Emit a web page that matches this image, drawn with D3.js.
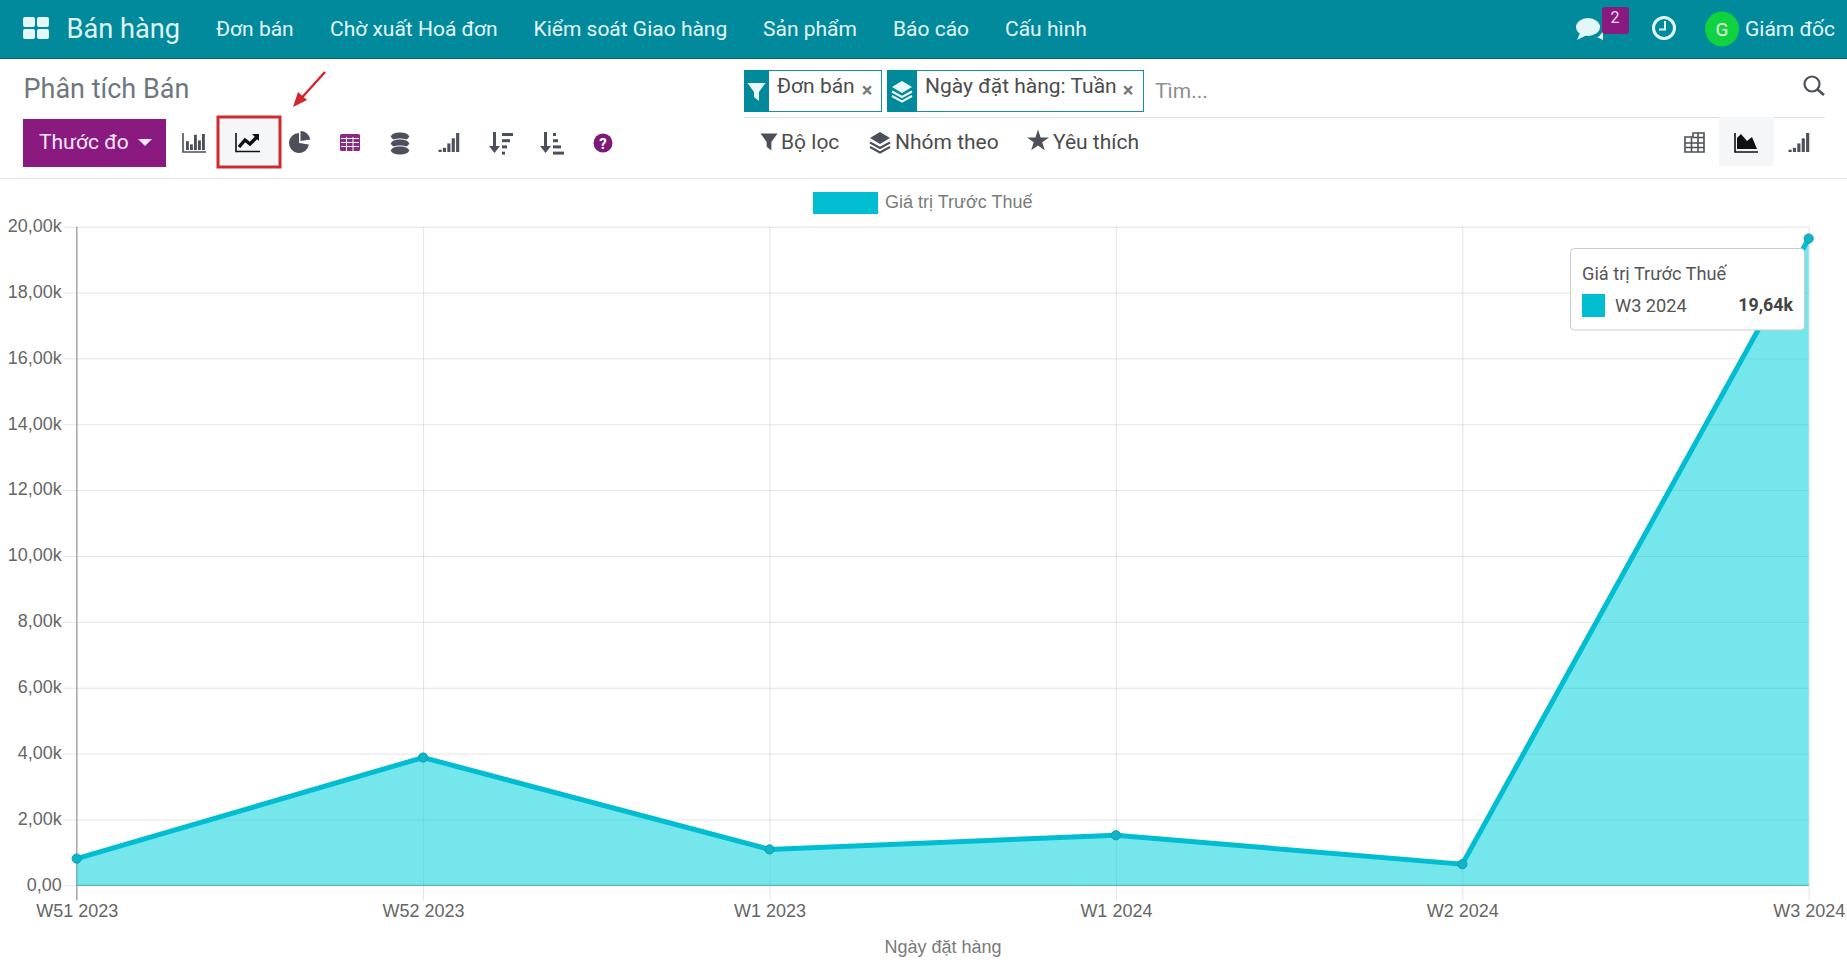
<!DOCTYPE html>
<html>
<head>
<meta charset="utf-8">
<title>Phân tích Bán</title>
<script src="https://cdnjs.cloudflare.com/ajax/libs/d3/7.8.5/d3.min.js"></script>
<style>
  html, body { margin: 0; padding: 0; background: #fff; overflow: hidden; }
  svg { display: block; }
  text { font-family: Roboto, sans-serif; }
  .chart text { font-family: "Liberation Sans", Arial, sans-serif; }
</style>
</head>
<body>
<svg id="page" width="1847" height="960"></svg>
<script>
// chart data
const categories = ['W51 2023', 'W52 2023', 'W1 2023', 'W1 2024', 'W2 2024', 'W3 2024']
const values = [810, 3880, 1090, 1520, 640, 19640]
const yTicks = [0, 2000, 4000, 6000, 8000, 10000, 12000, 14000, 16000, 18000, 20000]
const yTickLabels = ['0,00', '2,00k', '4,00k', '6,00k', '8,00k', '10,00k', '12,00k', '14,00k', '16,00k', '18,00k', '20,00k']

const seriesName = 'Giá trị Trước Thuế'
const xTitle = 'Ngày đặt hàng'
const tooltipCategory = 'W3 2024'
const tooltipValue = '19,64k'

// page chrome text
const navLabels = ['Đơn bán', 'Chờ xuất Hoá đơn', 'Kiểm soát Giao hàng', 'Sản phẩm', 'Báo cáo', 'Cấu hình']
const navX = [216, 330, 533.5, 763, 893, 1005]

const TEAL = '#018a9c'
const PURPLE = '#8a1a80'
const ICON = '#4b505a'
const CYAN = '#00bdd2'

const svg = d3.select('#page')

function label(parent, x, y, txt, size, fill, extra) {
  const t = parent.append('text').attr('x', x).attr('y', y).attr('font-size', size).attr('fill', fill).text(txt)
  if (extra) Object.keys(extra).forEach((k) => t.attr(k, extra[k]))
  return t
}

// ---- top bar
svg.append('rect').attr('width', 1847).attr('height', 58).attr('fill', TEAL)
svg.append('line').attr('x1', 0).attr('x2', 1847).attr('y1', 58.5).attr('y2', 58.5).attr('stroke', '#0b5f6c')

const logo = svg.append('g').attr('fill', '#e3f6f8')
;[[23, 17], [37, 17], [23, 29], [37, 29]].forEach((p) => {
  logo.append('rect').attr('x', p[0]).attr('y', p[1]).attr('width', 12).attr('height', 10).attr('rx', 2)
})
label(svg, 66.5, 38, 'Bán hàng', 27.2, '#dff4f6')

svg.append('g').selectAll('text').data(navLabels).join('text')
  .attr('x', (d, i) => navX[i]).attr('y', 36).attr('font-size', 21).attr('fill', '#e3f5f7').text((d) => d)

// chat bubbles + badge
const chat = svg.append('g').attr('fill', '#e3f6f8')
chat.append('ellipse').attr('cx', 1588).attr('cy', 27).attr('rx', 12).attr('ry', 9)
chat.append('path').attr('d', 'M1580 33 L1577 40 L1587 35 Z')
chat.append('path').attr('d', 'M1594 38 Q1601 37 1603 30 L1603 36 L1603 40 L1597 37 Z')
svg.append('rect').attr('x', 1602).attr('y', 7).attr('width', 27).attr('height', 27).attr('rx', 3).attr('fill', PURPLE)
label(svg, 1615, 23, '2', 16, '#f0d9ee', { 'text-anchor': 'middle' })

// clock
svg.append('circle').attr('cx', 1664).attr('cy', 28).attr('r', 10.5).attr('fill', 'none').attr('stroke', '#e3f6f8').attr('stroke-width', 3)
svg.append('path').attr('d', 'M1665 21 V29.5 H1659').attr('fill', 'none').attr('stroke', '#e3f6f8').attr('stroke-width', 2)

// user
svg.append('ellipse').attr('cx', 1722).attr('cy', 29).attr('rx', 17).attr('ry', 17.5).attr('fill', '#0fd23e')
label(svg, 1722, 36, 'G', 19, '#e8fbe9', { 'text-anchor': 'middle' })
label(svg, 1745, 36, 'Giám đốc', 21, '#e3f5f7')

// ---- control panel
label(svg, 23.5, 98, 'Phân tích Bán', 27, '#6f777e')

svg.append('rect').attr('x', 23).attr('y', 119).attr('width', 143).attr('height', 48).attr('fill', PURPLE)
label(svg, 39, 149, 'Thước đo', 21, '#f6e9f5')
svg.append('path').attr('d', 'M138 139 H152 L145 146 Z').attr('fill', '#f6e9f5')

svg.append('rect').attr('x', 218).attr('y', 117).attr('width', 62).attr('height', 50).attr('fill', '#f5f6f8')
  .attr('stroke', '#cf2a2e').attr('stroke-width', 3)

// arrow annotation
svg.append('line').attr('x1', 325).attr('y1', 72).attr('x2', 297).attr('y2', 103).attr('stroke', '#d3262b').attr('stroke-width', 2.4)
svg.append('path').attr('d', 'M293 107 L298 92 L307 100 Z').attr('fill', '#d3262b')

function barsIcon(g, x, y, w, h, heights, fill) {
  const bw = w / (heights.length * 1.4)
  heights.forEach((v, i) => {
    g.append('rect').attr('x', x + i * (w / heights.length)).attr('y', y + h * (1 - v))
      .attr('width', bw).attr('height', h * v).attr('fill', fill)
  })
}

// graph type icons
const iconBar = svg.append('g')
iconBar.append('path').attr('d', 'M183 133 V152 H206').attr('fill', 'none').attr('stroke', ICON).attr('stroke-width', 1.6)
barsIcon(iconBar, 186, 134, 20, 16, [0.55, 0.35, 0.95, 0.6, 1], ICON)

svg.append('path').attr('d', 'M236 133 V151.5 H260').attr('fill', 'none').attr('stroke', '#111').attr('stroke-width', 1.6)
svg.append('path').attr('d', 'M239 147 L245 140 L250 144 L257 137').attr('fill', 'none').attr('stroke', '#111').attr('stroke-width', 3.4)
svg.append('path').attr('d', 'M252 134 H259 V141 Z').attr('fill', '#111')

const pie = d3.arc().innerRadius(0).outerRadius(10)
svg.append('path').attr('transform', 'translate(299,143)').attr('fill', ICON)
  .attr('d', pie({ startAngle: Math.PI * 0.55, endAngle: Math.PI * 2 }))
svg.append('path').attr('transform', 'translate(300.5,141)').attr('fill', ICON)
  .attr('d', pie({ startAngle: 0, endAngle: Math.PI * 0.45 }))

const gridIcon = svg.append('g')
gridIcon.append('rect').attr('x', 340).attr('y', 134).attr('width', 20).attr('height', 17).attr('rx', 1.5).attr('fill', '#8a2a85')
;[346.5, 353].forEach((x) => gridIcon.append('line').attr('x1', x).attr('x2', x).attr('y1', 137).attr('y2', 151).attr('stroke', '#fff'))
;[138.5, 142.5, 146.5].forEach((y) => gridIcon.append('line').attr('x1', 341).attr('x2', 359).attr('y1', y).attr('y2', y).attr('stroke', '#fff'))

const db = svg.append('g').attr('fill', ICON)
;[136.5, 143.5, 150.5].forEach((y) => db.append('ellipse').attr('cx', 400).attr('cy', y).attr('rx', 9.5).attr('ry', 4.6).attr('stroke', '#fff'))

barsIcon(svg.append('g'), 438.5, 133, 22, 19, [0.12, 0.22, 0.45, 0.72, 1], ICON)

function sortIcon(x, widths) {
  const g = svg.append('g').attr('fill', ICON)
  g.append('rect').attr('x', x).attr('y', 132).attr('width', 3).attr('height', 16)
  g.append('path').attr('d', `M${x - 4} 146 H${x + 7} L${x + 1.5} 153 Z`)
  widths.forEach((w, i) => g.append('rect').attr('x', x + 9).attr('y', 133 + i * 6.2).attr('width', w).attr('height', 3))
}
sortIcon(493, [11, 8, 5, 3])
sortIcon(544, [3, 5, 8, 11])

svg.append('circle').attr('cx', 603).attr('cy', 143).attr('r', 9.5).attr('fill', '#7d1a78')
label(svg, 603, 149, '?', 15, '#fff', { 'text-anchor': 'middle', 'font-weight': 700 })

// ---- search facets
function facet(x0, iconW, x1, txt, txtX, closeX, drawIcon) {
  svg.append('rect').attr('x', x0 + 0.5).attr('y', 70.5).attr('width', x1 - x0 - 1).attr('height', 41).attr('fill', '#fff').attr('stroke', '#1b8d9e')
  svg.append('rect').attr('x', x0).attr('y', 70).attr('width', iconW).attr('height', 42).attr('fill', TEAL)
  drawIcon(x0 + iconW / 2)
  label(svg, txtX, 93, txt, 21, '#4c4c4c')
  label(svg, closeX, 97, '×', 20, '#777', { 'text-anchor': 'middle', 'font-weight': 700 })
}

function funnel(cx, cy, s, fill) {
  svg.append('path').attr('fill', fill)
    .attr('d', `M${cx - 9 * s} ${cy - 9 * s} H${cx + 9 * s} L${cx + 2.5 * s} ${cy} V${cy + 9 * s} L${cx - 2.5 * s} ${cy + 5 * s} V${cy} Z`)
}

function layers(cx, cy, fill) {
  const g = svg.append('g').attr('fill', 'none').attr('stroke', fill).attr('stroke-width', 2)
  svg.append('path').attr('d', `M${cx} ${cy - 10} L${cx + 10} ${cy - 4} L${cx} ${cy + 2} L${cx - 10} ${cy - 4} Z`).attr('fill', fill)
  g.append('path').attr('d', `M${cx - 10} ${cy + 0.5} L${cx} ${cy + 6} L${cx + 10} ${cy + 0.5}`)
  g.append('path').attr('d', `M${cx - 10} ${cy + 5} L${cx} ${cy + 10.5} L${cx + 10} ${cy + 5}`)
}

facet(744, 25, 882, 'Đơn bán', 777, 867, (cx) => funnel(cx, 92, 1, '#e9f7f9'))
facet(887, 30, 1144, 'Ngày đặt hàng: Tuần', 925, 1128, (cx) => layers(cx, 91, '#e9f7f9'))
label(svg, 1155, 98, 'Tìm...', 21, '#8a8f94')

// search glass
svg.append('circle').attr('cx', 1812).attr('cy', 84).attr('r', 7.5).attr('fill', 'none').attr('stroke', ICON).attr('stroke-width', 2.2)
svg.append('line').attr('x1', 1817.5).attr('y1', 89.5).attr('x2', 1824).attr('y2', 95).attr('stroke', ICON).attr('stroke-width', 2.6)

svg.append('line').attr('x1', 744).attr('x2', 1825).attr('y1', 117.5).attr('y2', 117.5).attr('stroke', '#dee0e3')
svg.append('line').attr('x1', 0).attr('x2', 1847).attr('y1', 178.5).attr('y2', 178.5).attr('stroke', '#e2e4e6')

funnel(769, 142, 0.95, ICON)
label(svg, 781, 149, 'Bộ lọc', 21, '#4c4c4c')
layers(880, 142, ICON)
label(svg, 895, 149, 'Nhóm theo', 21, '#4c4c4c')
svg.append('path').attr('transform', 'translate(1038,141)').attr('fill', ICON)
  .attr('d', d3.symbol(d3.symbolStar, 150)())
label(svg, 1053, 149, 'Yêu thích', 21, '#4c4c4c')

// view switcher
const tbl = svg.append('g').attr('fill', 'none').attr('stroke', ICON).attr('stroke-width', 1.6)
tbl.append('path').attr('d', 'M1685 137 H1693 V133 H1704 V152 H1685 Z M1685 143 H1704 M1685 147.5 H1704 M1691.5 137 V152 M1698 133 V152 M1693 137.5 H1704')
svg.append('rect').attr('x', 1719).attr('y', 117).attr('width', 54.5).attr('height', 49).attr('fill', '#f5f6f8')
svg.append('path').attr('d', 'M1735 133 V152 H1758').attr('fill', 'none').attr('stroke', '#111').attr('stroke-width', 1.6)
svg.append('path').attr('d', 'M1737 149 V138 L1741 134 L1747 141 L1752 137 L1757 149 Z').attr('fill', '#111')
barsIcon(svg.append('g'), 1788.5, 133, 22, 19, [0.12, 0.22, 0.45, 0.72, 1], ICON)

// ---- chart
const plot = { left: 76.7, right: 1808.7, top: 226.7, bottom: 885.3 }

const x = d3.scalePoint().domain(categories).range([plot.left, plot.right])
const y = d3.scaleLinear().domain([0, 20000]).range([plot.bottom, plot.top])

const chart = svg.append('g').attr('class', 'chart')

// legend
chart.append('rect').attr('x', 813).attr('y', 192).attr('width', 65).attr('height', 22).attr('fill', CYAN)
label(chart, 885, 208, seriesName, 18, '#7a7a7a')

const gx = chart.append('g').attr('transform', `translate(0,${plot.bottom})`)
  .call(d3.axisBottom(x).tickSize(0).tickPadding(32))
gx.select('.domain').remove()
gx.selectAll('line').remove()
gx.selectAll('.tick').append('line').attr('y1', plot.top - plot.bottom).attr('y2', 15).attr('stroke', 'rgba(0,0,0,0.11)')
gx.selectAll('text').attr('font-size', 18).attr('fill', '#666').attr('font-family', null)
gx.selectAll('.tick text').attr('y', 32).attr('dy', 0)

const gy = chart.append('g').attr('transform', `translate(${plot.left},0)`)
  .call(d3.axisLeft(y).tickValues(yTicks).tickFormat((d, i) => yTickLabels[i]).tickSize(0).tickPadding(15))
gy.select('.domain').remove()
gy.selectAll('line').remove()
gy.selectAll('.tick').append('line').attr('x1', -13.5).attr('x2', plot.right - plot.left).attr('stroke', 'rgba(0,0,0,0.11)')
gy.selectAll('text').attr('font-size', 18).attr('fill', '#666').attr('font-family', null).attr('y', -1)

// y axis line
chart.append('line').attr('x1', plot.left).attr('x2', plot.left).attr('y1', plot.top).attr('y2', plot.bottom + 15).attr('stroke', '#a9a9a9').attr('stroke-width', 1.4)

const rows = categories.map((c, i) => ({ c, v: values[i] }))

chart.append('path').datum(rows)
  .attr('fill', 'rgba(0,208,220,0.54)')
  .attr('d', d3.area().x((d) => x(d.c)).y0(y(0)).y1((d) => y(d.v)))

chart.append('line').attr('x1', plot.left).attr('x2', plot.right).attr('y1', plot.bottom).attr('y2', plot.bottom).attr('stroke', '#5bb4c0').attr('stroke-width', 1.2)

chart.append('path').datum(rows)
  .attr('fill', 'none').attr('stroke', CYAN).attr('stroke-width', 5)
  .attr('d', d3.line().x((d) => x(d.c)).y((d) => y(d.v)))

chart.selectAll('circle.pt').data(rows).join('circle')
  .attr('class', 'pt')
  .attr('cx', (d) => x(d.c)).attr('cy', (d) => y(d.v)).attr('r', 4.6)
  .attr('fill', '#0eb4c8').attr('stroke', '#0a9fb2').attr('stroke-width', 1)

label(chart, 943, 953, xTitle, 18, '#7a7a7a', { 'text-anchor': 'middle' })

// tooltip
const tip = svg.append('g')
tip.append('rect').attr('x', 1570.5).attr('y', 248.5).attr('width', 234).attr('height', 81.5).attr('rx', 4)
  .attr('fill', '#fff').attr('stroke', '#c9cbce')
label(tip, 1582, 280, seriesName, 18.2, '#555')
tip.append('rect').attr('x', 1582).attr('y', 294).attr('width', 23).attr('height', 23).attr('fill', CYAN)
label(tip, 1615, 312, tooltipCategory, 18.2, '#555')
label(tip, 1793, 311, tooltipValue, 17.8, '#444', { 'text-anchor': 'end', 'font-weight': 700 })
</script>
</body>
</html>
